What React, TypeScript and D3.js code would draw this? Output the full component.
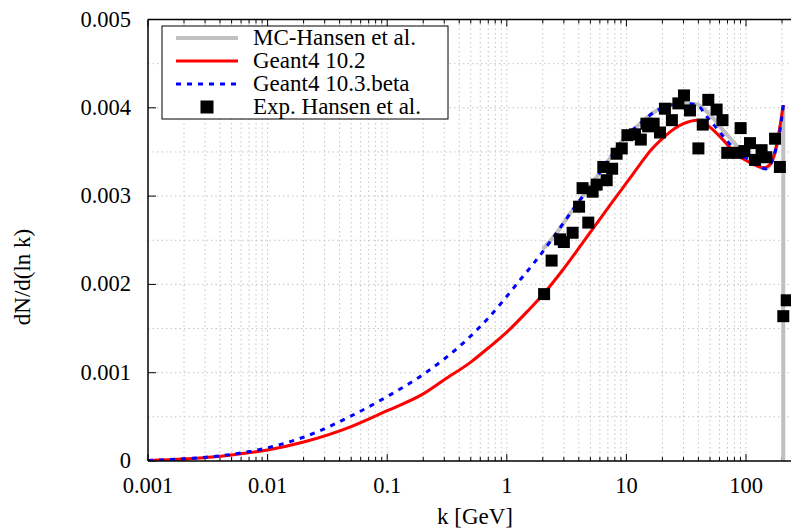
import React from "react";
import * as d3 from "d3";

// ---- data ----
const redK = [0.001, 0.002, 0.005, 0.01, 0.02, 0.05, 0.1, 0.2, 0.3, 0.5, 0.7, 1.0, 1.5, 2.05, 3, 4.1, 6, 8.2, 10.4, 13, 16, 20.3, 25, 30, 39, 50, 64, 82, 108, 140, 160, 175, 192, 205];
const redV = [0.000005, 0.000022, 0.000068, 0.000125, 0.000215, 0.00039, 0.00057, 0.00076, 0.00092, 0.00112, 0.00128, 0.00146, 0.0017, 0.0019, 0.00218, 0.00243, 0.00274, 0.00299, 0.00318, 0.00336, 0.00352, 0.00366, 0.00376, 0.00382, 0.00386, 0.00378, 0.00364, 0.00348, 0.00338, 0.00332, 0.00336, 0.0035, 0.00378, 0.00403];

const blueK = [0.001, 0.002, 0.005, 0.01, 0.02, 0.05, 0.1, 0.2, 0.46, 0.68, 0.94, 1.29, 1.73, 2.44, 3.5, 4.96, 7.3, 9.4, 13.0, 17.5, 29.9, 39, 47, 56.8, 70, 90, 115, 145, 175, 198, 205];
const blueV = [0.000005, 0.000025, 0.000075, 0.00015, 0.00027, 0.00051, 0.00073, 0.00098, 0.00137, 0.0016, 0.00182, 0.00205, 0.00226, 0.00253, 0.00283, 0.00311, 0.00343, 0.00364, 0.00382, 0.00396, 0.00405, 0.00403, 0.0039, 0.00377, 0.00362, 0.00347, 0.00339, 0.00331, 0.0035, 0.00386, 0.00403];

const greyK = [2.0, 2.44, 3.5, 4.96, 7.3, 9.4, 13.0, 17.5, 29.9, 39, 44, 55, 64, 78, 95, 115, 145, 175, 198, 205, 205];
const greyV = [0.0024, 0.00253, 0.00283, 0.00311, 0.00343, 0.00364, 0.00382, 0.00396, 0.00405, 0.00404, 0.00399, 0.00386, 0.00375, 0.00362, 0.00348, 0.00339, 0.00331, 0.0035, 0.00386, 0.00403, 0];

const expK = [2.05, 2.37, 2.79, 3.0, 3.55, 4.02, 4.3, 4.8, 5.22, 5.64, 6.41, 6.84, 7.6, 8.28, 9.15, 10.2, 11.8, 13.2, 14.7, 15.2, 16.9, 19.1, 21.0, 24.0, 27.2, 30.3, 34.0, 40.0, 43.5, 48.4, 56.8, 63.6, 69.7, 85.0, 90.2, 97.0, 108, 119, 135, 148, 175, 192, 205, 219];
const expV = [0.00189, 0.00227, 0.00251, 0.00248, 0.002585, 0.00288, 0.00309, 0.0027, 0.00305, 0.00313, 0.00333, 0.00318, 0.00331, 0.00348, 0.00354, 0.00369, 0.0037, 0.00364, 0.00382, 0.00379, 0.00382, 0.00372, 0.00399, 0.00386, 0.00405, 0.00414, 0.00397, 0.00354, 0.00381, 0.00409, 0.00398, 0.00386, 0.00349, 0.00349, 0.00377, 0.00351, 0.0036, 0.00341, 0.00352, 0.00344, 0.00365, 0.00333, 0.00164, 0.00182];

const xTickVals = [0.001, 0.01, 0.1, 1, 10, 100];
const xTickLabels = ["0.001", "0.01", "0.1", "1", "10", "100"];
const yTickVals = [0, 0.001, 0.002, 0.003, 0.004, 0.005];
const yTickLabels = ["0", "0.001", "0.002", "0.003", "0.004", "0.005"];

const legendLabels = ["MC-Hansen et al.", "Geant4 10.2", "Geant4 10.3.beta", "Exp. Hansen et al."];

const W = 791, H = 530;
const L = 148, T = 19.5, B = 461;
const decade = 119.6;
const R = L + decade * Math.log10(290 / 0.001);
const FONT = "'Liberation Serif', 'Times New Roman', Times, serif";

export default function App() {
  const x = d3.scaleLog().domain([0.001, 290]).range([L, R]);
  const y = d3.scaleLinear().domain([0, 0.005]).range([B, T]);
  const ts = { fontFamily: FONT, fontSize: "23px" };
  const tk = { fontFamily: FONT, fontSize: "22.5px" };

  const line = d3.line<[number, number]>().x(d => x(d[0])).y(d => y(d[1])).curve(d3.curveMonotoneX);
  const lineLin = d3.line<[number, number]>().x(d => x(d[0])).y(d => y(d[1]));

  const red = redK.map((k, i) => [k, redV[i]] as [number, number]);
  const blue = blueK.map((k, i) => [k, blueV[i]] as [number, number]);
  const greyCurve = greyK.slice(0, -1).map((k, i) => [k, greyV[i]] as [number, number]);
  const greyEnd = greyK.slice(-2).map((k, i) => [k, greyV[greyV.length - 2 + i]] as [number, number]);

  const minorX: number[] = [];
  for (let e = -3; e <= 2; e++) {
    for (let m = 1; m <= 9; m++) {
      const v = m * Math.pow(10, e);
      if (v <= 290) minorX.push(v);
    }
  }
  const yGrid: number[] = [];
  for (let i = 1; i < 10; i++) yGrid.push(i * 0.0005);

  const legY = [38, 61, 84, 107];
  const sq = 12;

  return (
    <svg width={W} height={H} style={{ position: "absolute", left: 0, top: 0, fontFamily: FONT }}>
      <defs>
        <clipPath id="plot">
          <rect x={L} y={T} width={R - L} height={B - T} />
        </clipPath>
      </defs>
      <rect x={0} y={0} width={W} height={H} fill="#fff" />
      <g stroke="#c4c4c4" strokeWidth={1} strokeDasharray="1.5,3">
        {minorX.filter(v => v > 0.001).map((v, i) => (
          <line key={"gx" + i} x1={x(v)} x2={x(v)} y1={T} y2={B} />
        ))}
        {yGrid.map((v, i) => (
          <line key={"gy" + i} x1={L} x2={W} y1={y(v)} y2={y(v)} />
        ))}
      </g>
      <g stroke="#000" strokeWidth={1}>
        {minorX.map((v, i) => {
          const major = xTickVals.includes(v);
          const len = major ? 7 : 4;
          return (
            <g key={"tx" + i}>
              <line x1={x(v)} x2={x(v)} y1={B} y2={B - len} />
              <line x1={x(v)} x2={x(v)} y1={T} y2={T + len} />
            </g>
          );
        })}
        {yTickVals.map((v, i) => (
          <line key={"ty" + i} x1={L} x2={L + 8} y1={y(v)} y2={y(v)} />
        ))}
      </g>
      <g clipPath="url(#plot)" fill="none">
        <path d={line(greyCurve) || ""} stroke="#c0c0c0" strokeWidth={4} />
        <path d={lineLin(greyEnd) || ""} stroke="#c0c0c0" strokeWidth={4} />
        <path d={line(red) || ""} stroke="#ff0000" strokeWidth={3} />
        <path d={line(blue) || ""} stroke="#0000ff" strokeWidth={3} strokeDasharray="5,6" />
        {expK.map((k, i) => (
          <rect key={"p" + i} x={x(k) - sq / 2} y={y(expV[i]) - sq / 2} width={sq} height={sq} fill="#000" />
        ))}
      </g>
      <g stroke="#000" strokeWidth={1.5} fill="none">
        <line x1={L} x2={L} y1={T} y2={B} />
        <line x1={L} x2={W} y1={B} y2={B} />
        <line x1={L} x2={W} y1={T} y2={T} />
      </g>
      <rect x={162} y={26} width={286} height={93} fill="#fff" stroke="#000" strokeWidth={1} />
      <line x1={176} x2={238} y1={legY[0]} y2={legY[0]} stroke="#c0c0c0" strokeWidth={4} />
      <line x1={176} x2={238} y1={legY[1]} y2={legY[1]} stroke="#ff0000" strokeWidth={3} />
      <line x1={176} x2={238} y1={legY[2]} y2={legY[2]} stroke="#0000ff" strokeWidth={3} strokeDasharray="5,6" />
      <rect x={207 - 6.5} y={legY[3] - 6.5} width={13} height={13} fill="#000" />
      {legendLabels.map((t, i) => (
        <text key={"l" + i} x={253} y={legY[i] + 7} style={ts} fill="#000">{t}</text>
      ))}
      {xTickVals.map((v, i) => (
        <text key={"xl" + i} x={x(v)} y={493} style={tk} textAnchor="middle" fill="#000">{xTickLabels[i]}</text>
      ))}
      {yTickVals.map((v, i) => (
        <text key={"yl" + i} x={131} y={y(v) + 7} style={tk} textAnchor="end" fill="#000">{yTickLabels[i]}</text>
      ))}
      <text x={475} y={524} style={ts} textAnchor="middle" fill="#000">k [GeV]</text>
      <text transform={`translate(30,277) rotate(-90)`} style={ts} textAnchor="middle" fill="#000">dN/d(ln k)</text>
    </svg>
  );
}
